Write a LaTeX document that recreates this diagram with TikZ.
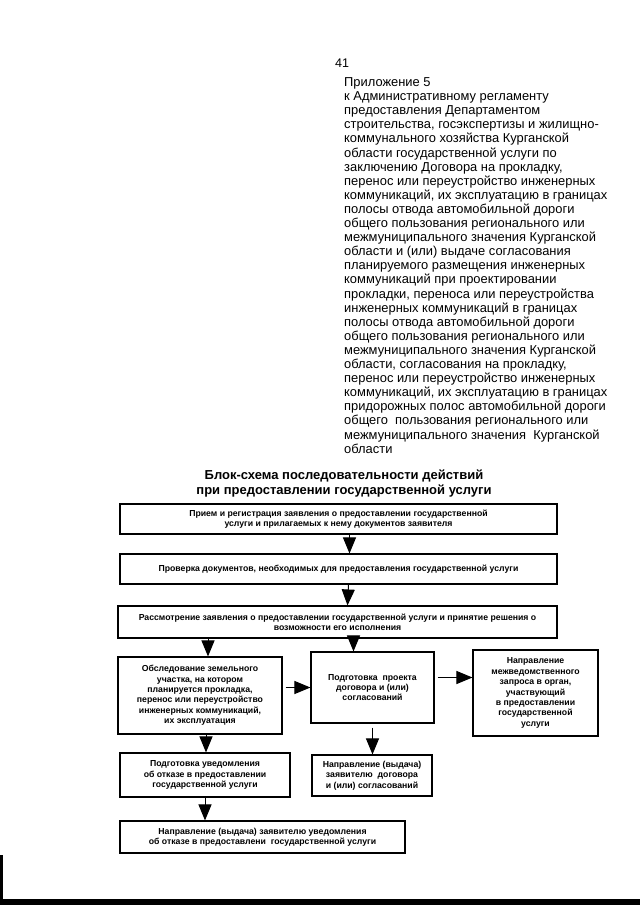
\documentclass[tikz,border=0pt]{standalone}
\usepackage{fontspec}
\setmainfont{Liberation Sans}
\usetikzlibrary{positioning,calc,arrows.meta}

\begin{document}
\begin{tikzpicture}[x=1pt,y=-1pt,
    blok/.style={draw, line width=1.1pt, align=center, inner sep=1pt, font=\fontsize{8.7}{10.4}\selectfont\bfseries},
    strelka/.style={line width=1pt, -{Triangle[length=16pt,width=13pt]}}]
    \useasboundingbox (0,0) rectangle (640,905);
    % header
    \node [anchor=base west, inner sep=0, font=\fontsize{12.5}{14.1}\selectfont] (nomer) at (335,67) {41};
    \node [anchor=north west, inner sep=0, align=left, font=\fontsize{12.9}{14.1}\selectfont] (prilozh) at (344,77.5) {Приложение 5\\к Административному регламенту\\предоставления Департаментом\\строительства, госэкспертизы и жилищно-\\коммунального хозяйства Курганской\\области государственной услуги по\\заключению Договора на прокладку,\\перенос или переустройство инженерных\\коммуникаций, их эксплуатацию в границах\\полосы отвода автомобильной дороги\\общего пользования регионального или\\межмуниципального значения Курганской\\области и (или) выдаче согласования\\планируемого размещения инженерных\\коммуникаций при проектировании\\прокладки, переноса или переустройства\\инженерных коммуникаций в границах\\полосы отвода автомобильной дороги\\общего пользования регионального или\\межмуниципального значения Курганской\\области, согласования на прокладку,\\перенос или переустройство инженерных\\коммуникаций, их эксплуатацию в границах\\придорожных полос автомобильной дороги\\общего\ \ пользования регионального или\\межмуниципального значения\ \ Курганской\\области};
    \node [anchor=north, inner sep=0, align=center, font=\fontsize{13}{14.8}\selectfont\bfseries] (zagl) at (344,469.5) {Блок-схема последовательности действий\\при предоставлении государственной услуги};
    % boxes
    \node [blok, minimum width=437, minimum height=30] (priem) at (338.5,519) {Прием и регистрация заявления о предоставлении государственной\\услуги и прилагаемых к нему документов заявителя};
    \node [blok, minimum width=437, minimum height=30] (proverka) at (338.5,569) {Проверка документов, необходимых для предоставления государственной услуги};
    \node [blok, minimum width=439, minimum height=32] (rassm) at (337.5,622) {Рассмотрение заявления о предоставлении государственной услуги и принятие решения о\\возможности его исполнения};
    \node [blok, minimum width=164, minimum height=77] (obsled) at (200,695.5) {Обследование земельного\\участка, на котором\\планируется прокладка,\\перенос или переустройство\\инженерных коммуникаций,\\их эксплуатация};
    \node [blok, minimum width=123, minimum height=71] (proekt) at (372.5,687.5) {Подготовка\ \ проекта\\договора и (или)\\согласований};
    \node [blok, minimum width=125, minimum height=86] (mezhved) at (535.5,693) {Направление\\межведомственного\\запроса в орган,\\участвующий\\в предоставлении\\государственной\\услуги};
    \node [blok, minimum width=170, minimum height=44] (otkaz) at (205,775) {Подготовка уведомления\\об отказе в предоставлении\\государственной услуги};
    \node [blok, minimum width=120, minimum height=41] (vydachaDog) at (372,775.5) {Направление (выдача)\\заявителю\ \ договора\\и (или) согласований};
    \node [blok, minimum width=285, minimum height=32] (vydachaOtk) at (262.5,837) {Направление (выдача) заявителю уведомления\\об отказе в предоставлени\ \ государственной услуги};
    % arrows
    \draw [strelka] ([xshift=11pt]priem.south) -- ([xshift=11pt]proverka.north);
    \draw [strelka] ([xshift=10pt]proverka.south) -- ([xshift=10pt]rassm.north);
    \draw [strelka] ([xshift=8pt]obsled.north |- rassm.south) -- ([xshift=8pt]obsled.north);
    \draw [strelka] ([xshift=-19pt]proekt.north |- rassm.south) -- ([xshift=-19pt]proekt.north);
    \draw [strelka, shorten <=3pt] (proekt.west -| obsled.east) -- (proekt.west);
    \draw [strelka, shorten <=3pt] ([yshift=10pt]proekt.east) -- ([yshift=10pt]proekt.east -| mezhved.west);
    \draw [strelka] ([xshift=6pt]obsled.south) -- ([xshift=6pt]obsled.south |- otkaz.north);
    \draw [strelka, shorten <=4pt] (proekt.south) -- (proekt.south |- vydachaDog.north);
    \draw [strelka] (otkaz.south) -- (otkaz.south |- vydachaOtk.north);
    % scan edge
    \fill (0,899) rectangle (640,905);
    \fill (0,855) rectangle (2.5,905);
\end{tikzpicture}
\end{document}
